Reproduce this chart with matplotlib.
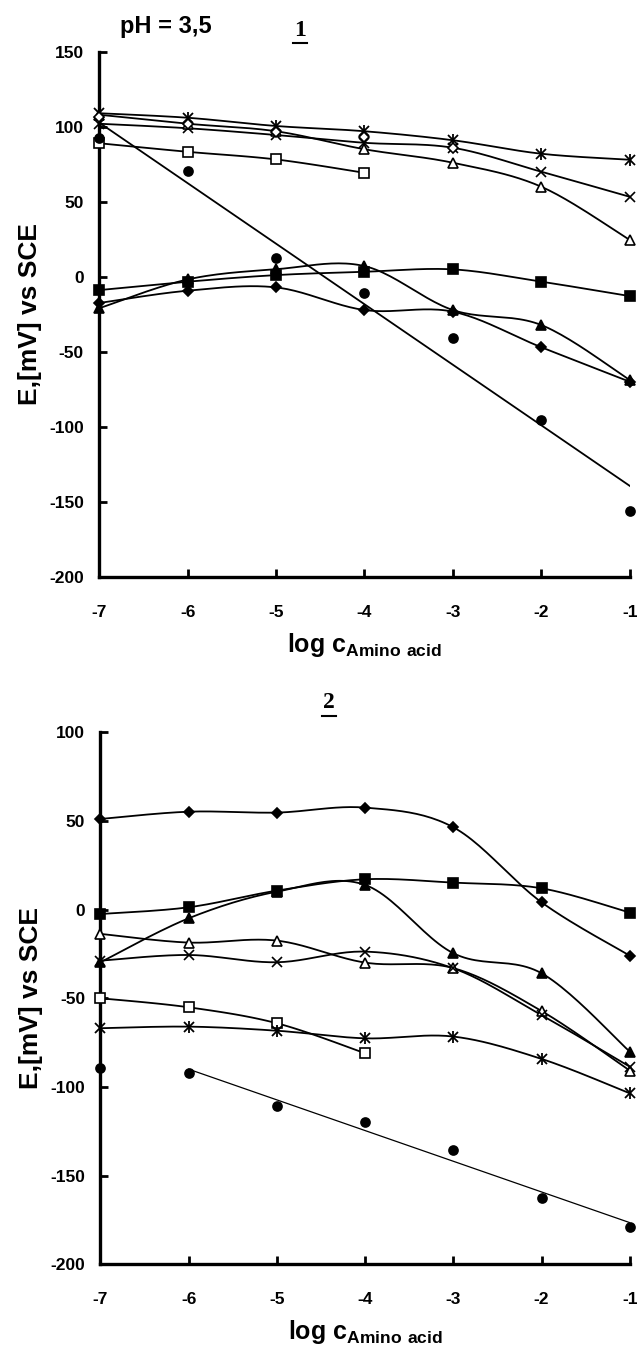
import numpy as np
import matplotlib.pyplot as plt
from matplotlib.lines import Line2D

# log c of amino acid
x = np.array([-7, -6, -5, -4, -3, -2, -1])

# panel 1 (pH = 3,5)
p1_star = [109, 106, 100.5, 97, 91, 82, 78]
p1_cross = [102, 99, 94.5, 89.3, 86, 70, 53.3]
p1_tri_open = [108, 102, 97, 85, 76, 60, 24.5]
p1_diam_open = [106.5, 102, 96.7, 93.3, 86]
p1_sq_open = [89, 83.3, 78.2, 69.3]
p1_circle = [92.3, 70.5, 12.2, -10.7, -41.1, -95.5, -156]
p1_sq = [-8.9, -3.3, 1.1, 3.3, 4.9, -3.3, -12.9]
p1_tri = [-21, -1.8, 5, 7.1, -22.2, -32.2, -68.9]
p1_diam = [-17.5, -9.3, -7.1, -22.2, -23.3, -47, -70]

# panel 2
p2_diam = [51.1, 55.2, 54.7, 57.5, 46.4, 4.1, -26]
p2_sq = [-2.5, 1.3, 10.7, 17.1, 15.2, 12.0, -1.7]
p2_tri = [-29.7, -4.9, 10.1, 13.9, -24.6, -35.9, -80.1]
p2_tri_open = [-13.7, -18.6, -17.5, -29.9, -33, -57.2, -90.8]
p2_cross = [-28.8, -25.6, -29.7, -23.7, -33.1, -59.5, -88.6]
p2_sq_open = [-50, -55.1, -64.1, -81]
p2_star = [-66.9, -66, -68.3, -72.6, -71.6, -84.2, -103.6]
p2_circle = [-89.5, -92, -110.7, -120, -135.5, -162.4, -179]

plt.rcParams['font.family'] = ['Liberation Sans', 'DejaVu Sans']
plt.rcParams['font.weight'] = 'bold'
plt.rcParams['axes.labelweight'] = 'bold'
plt.rcParams['axes.unicode_minus'] = False
plt.rcParams['mathtext.fontset'] = 'custom'
plt.rcParams['mathtext.bf'] = 'Liberation Sans:bold'
plt.rcParams['mathtext.rm'] = 'Liberation Sans:bold'


def smooth(xs, ys, n=25):
    # excel-like smoothed line (bezier through the points)
    P = np.column_stack([np.asarray(xs, float), np.asarray(ys, float)])
    t = np.linspace(0, 1, n)[1:, None]
    out = [P[0]]
    for i in range(len(P) - 1):
        p0 = P[i - 1] if i > 0 else P[i]
        p1, p2 = P[i], P[i + 1]
        p3 = P[i + 2] if i + 2 < len(P) else P[i + 1]
        c1 = p1 + (p2 - p0) / 6
        c2 = p2 - (p3 - p1) / 6
        seg = (1-t)**3*p1 + 3*(1-t)**2*t*c1 + 3*(1-t)*t**2*c2 + t**3*p2
        out.extend(seg)
    out = np.array(out)
    return out[:, 0], out[:, 1]


def series(ax, vals, marker, filled=True, ms=6.5, line=True):
    xs = x[:len(vals)]
    if line:
        sx, sy = smooth(xs, vals)
        ax.plot(sx, sy, color='black', lw=1.3, clip_on=False, zorder=2)
    if marker == 'star':
        ax.plot(xs, vals, ls='none', marker='x', ms=7, mec='black', mew=1.3, clip_on=False, zorder=3)
        ax.plot(xs, vals, ls='none', marker='|', ms=8, mec='black', mew=1.3, clip_on=False, zorder=3)
    else:
        ax.plot(xs, vals, ls='none', marker=marker, ms=ms,
                mfc='black' if filled else 'white', mec='black', mew=1.2,
                clip_on=False, zorder=3)


def trend(ax, xs, ys, lw):
    k, b = np.polyfit(xs, ys, 1)
    ax.plot([xs[0], xs[-1]], [k*xs[0] + b, k*xs[-1] + b], color='black', lw=lw, zorder=2)


def panel_title(label, xc, yc):
    # underlined bold serif number above a panel
    fig.text(xc / 640, 1 - yc / 1351, label, fontsize=17, fontweight='bold',
             family='Liberation Serif', va='center', ha='center')
    yu = 1 - (yc + 13) / 1351
    fig.add_artist(Line2D([(xc - 7) / 640, (xc + 7) / 640], [yu, yu],
                          transform=fig.transFigure, color='black', lw=1.5))


fig = plt.figure(figsize=(6.4, 13.51), dpi=100)
ax1 = fig.add_axes([0.155, 0.5731, 0.829, 0.3886])
ax2 = fig.add_axes([0.157, 0.0642, 0.827, 0.3938])

# panel 1
series(ax1, p1_star, 'star')
series(ax1, p1_cross, 'x', ms=7)
series(ax1, p1_tri_open, '^', filled=False, ms=6.5)
series(ax1, p1_diam_open, 'D', filled=False, ms=5, line=False)
series(ax1, p1_sq_open, 's', filled=False)
series(ax1, p1_sq, 's')
series(ax1, p1_tri, '^')
series(ax1, p1_diam, 'D', ms=5.5)
series(ax1, p1_circle, 'o', line=False)
trend(ax1, x, p1_circle, 1.3)

# panel 2
series(ax2, p2_diam, 'D', ms=5.5)
series(ax2, p2_sq, 's')
series(ax2, p2_tri, '^')
series(ax2, p2_tri_open, '^', filled=False, ms=6.5)
series(ax2, p2_cross, 'x', ms=7)
series(ax2, p2_sq_open, 's', filled=False)
series(ax2, p2_star, 'star')
series(ax2, p2_circle, 'o', line=False)
trend(ax2, x[1:], p2_circle[1:], 0.9)

ax1.set_ylim(-200, 150)
ax1.set_yticks(np.arange(-200, 151, 50))
ax2.set_ylim(-200, 100)
ax2.set_yticks(np.arange(-200, 101, 50))

for ax in (ax1, ax2):
    ax.set_xlim(-7, -1)
    ax.set_xticks(x)
    ax.spines[['top', 'right']].set_visible(False)
    ax.spines[['left', 'bottom']].set_linewidth(2.4)
    ax.tick_params(axis='y', direction='in', length=6, width=2, labelsize=12.5, pad=11)
    ax.tick_params(axis='x', direction='in', length=6, width=2, labelsize=12.5, pad=20)
    ax.set_ylabel('E,[mV] vs SCE', fontsize=19, labelpad=5)
    ax.set_xlabel(r'log c$_{\mathbf{Amino\ acid}}$', fontsize=18, labelpad=8)

fig.text(120/640, 1 - 27/1351, 'pH = 3,5', fontsize=17, fontweight='bold', va='center', ha='left')
panel_title('1', 300, 30)
panel_title('2', 329, 703)

fig.savefig('out.png', dpi=100)
